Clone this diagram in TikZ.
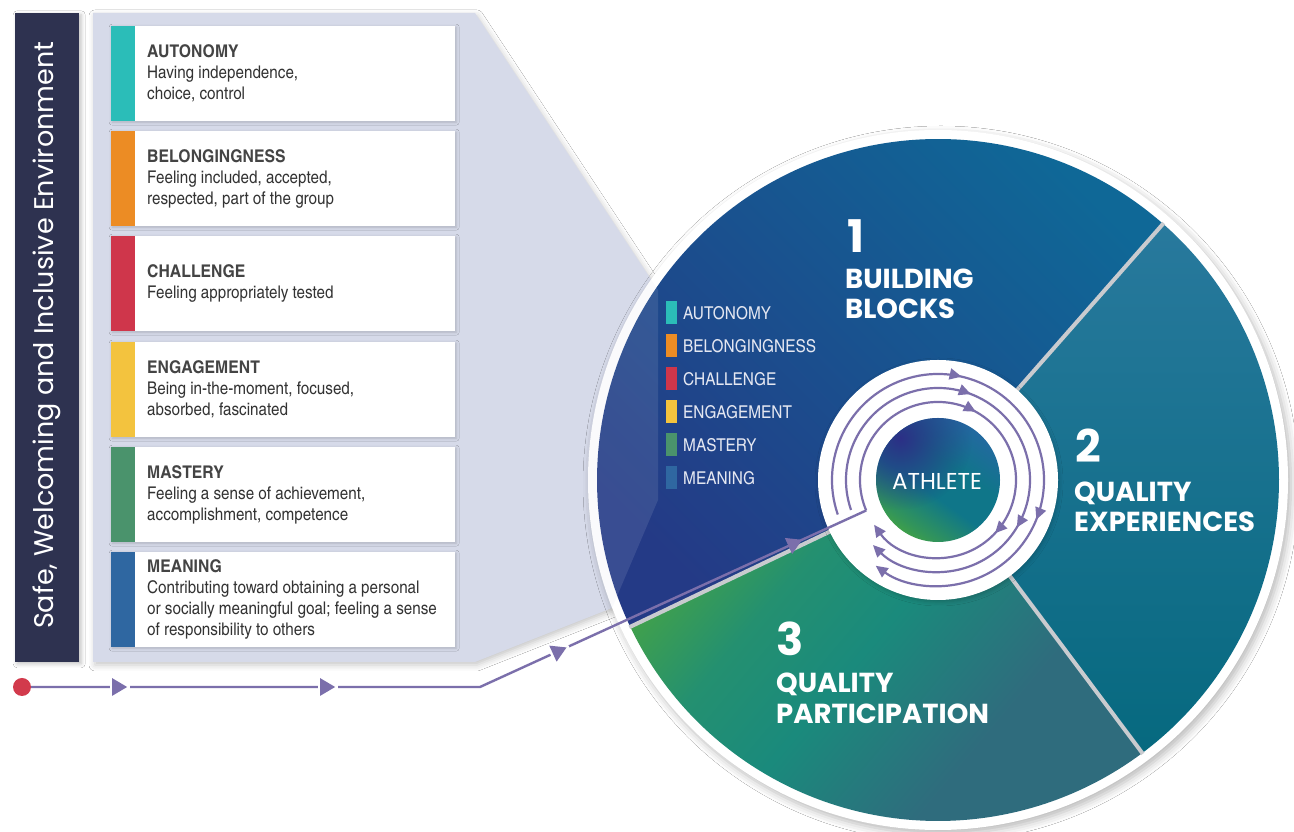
\documentclass[tikz,border=0pt]{standalone}
\usepackage{fontspec}
\usetikzlibrary{arrows.meta,decorations.markings,shadows.blur,calc,fadings}
\newfontfamily\cardfont{texgyreheroscn}[Extension=.otf,UprightFont=*-regular,BoldFont=*-bold,FakeStretch=1.06]
\newfontfamily\cardtitlefont{texgyreheroscn}[Extension=.otf,UprightFont=*-bold,FakeStretch=1.1]
\newfontfamily\headfont{Poppins}
\definecolor{barc}{HTML}{2E3250}
\definecolor{panelc}{HTML}{D6DAE9}
\definecolor{purp}{HTML}{7B6FAB}
\definecolor{redc}{HTML}{D23A4C}
\definecolor{cAut}{HTML}{2BBDB8}
\definecolor{cBel}{HTML}{EC8C24}
\definecolor{cCha}{HTML}{CF364B}
\definecolor{cEng}{HTML}{F3C33E}
\definecolor{cMas}{HTML}{4A936C}
\definecolor{cMea}{HTML}{2F67A1}
\definecolor{txtc}{HTML}{333333}
\definecolor{titc}{HTML}{444444}
\definecolor{legc}{HTML}{E4E7F1}
\definecolor{sOneA}{HTML}{243A86}
\definecolor{sOneB}{HTML}{0F6897}
\definecolor{sTwoA}{HTML}{28799D}
\definecolor{sTwoB}{HTML}{06697F}
\definecolor{sThrA}{HTML}{42A14A}
\definecolor{sThrM}{HTML}{249070}
\definecolor{sThrB}{HTML}{1A8A7C}
\definecolor{sThrC}{HTML}{2F6C7D}
\definecolor{athA}{HTML}{2C2F86}
\definecolor{athD}{HTML}{2369A0}
\definecolor{athB}{HTML}{0F7689}
\definecolor{athC}{HTML}{3E9F4A}
\definecolor{divc}{HTML}{C9CBCF}
\pgfdeclareverticalshading{sthree}{100bp}{color(0bp)=(sThrC); color(25bp)=(sThrC); color(35bp)=(sThrC); color(52bp)=(sThrB); color(64bp)=(sThrM); color(75bp)=(sThrA); color(100bp)=(sThrA)}
\pgfdeclareverticalshading{athsh}{100bp}{color(0bp)=(athC); color(25bp)=(athC); color(29bp)=(athC!75!athB); color(44bp)=(athB); color(58bp)=(athB); color(75bp)=(athD); color(100bp)=(athD)}
\tikzfading[name=fadeTL, inner color=transparent!0, outer color=transparent!100]
\newcommand\gapmark{\fill[white] (-17.5pt,-2pt) rectangle (2.5pt,2pt); \arrow{Triangle[length=15pt,width=17pt]}}
\newcommand\plainmark{\arrow{Triangle[length=15pt,width=17pt]}}
\newcommand\ringmark{\arrow{Triangle[length=12pt,width=11pt]}}
\begin{document}
\begin{tikzpicture}[x=1pt,y=1pt,
  card/.style={fill=white,minimum width=344,minimum height=95,inner sep=0,anchor=north west,
    blur shadow={shadow blur radius=3pt,shadow xshift=1pt,shadow yshift=-1pt,shadow opacity=18}},
  cardtext/.style={anchor=west,align=left,inner sep=0,text=txtc,font=\cardfont\fontsize{17.5}{21}\selectfont},
  legtext/.style={anchor=west,inner sep=0,text=legc,font=\cardfont\fontsize{17.7}{20}\selectfont},
  numtext/.style={anchor=base west,inner sep=0,text=white,font=\headfont\bfseries\fontsize{45}{45}\selectfont},
  headtext/.style={anchor=base west,inner sep=0,text=white,align=left,font=\headfont\bfseries\fontsize{27.5}{30}\selectfont},
  divider/.style={draw=divc,line width=4pt},
  flowline/.style={draw=purp,line width=2.4pt},
  ringline/.style={draw=purp,line width=2.2pt},
]
\newcommand\ttl[1]{{\cardtitlefont\fontsize{17.5}{21}\selectfont\color{titc}#1}}
\useasboundingbox (0,0) rectangle (1294,832);
\fill[white] (0,0) rectangle (1294,832);

% funnel panel
\fill[panelc,blur shadow={shadow blur radius=6pt,shadow xshift=2pt,shadow yshift=-3pt,shadow opacity=22}]
  (93,819) -- (475,819) -- (658,542) -- (658,332) -- (612,224) -- (475,170) -- (93,170) -- cycle;

% big circle
\coordinate (C) at (938,352);
\fill[white,blur shadow={shadow blur radius=8pt,shadow xshift=3pt,shadow yshift=-4pt,shadow opacity=28}] (C) circle (350);
\shade[top color=sOneB,bottom color=sOneA,shading angle=-45]
  (C) -- ++(48.7:341) arc[start angle=48.7,end angle=205.5,radius=341] -- cycle;
\shade[top color=sTwoA,bottom color=sTwoB]
  (C) -- ++(-53.2:341) arc[start angle=-53.2,end angle=48.7,radius=341] -- cycle;
\shade[shading=sthree,shading angle=50]
  (C) -- ++(205.5:341) arc[start angle=205.5,end angle=306.8,radius=341] -- cycle;
\draw[divider] ($(C)+(48.7:118)$) -- ($(C)+(48.7:342)$);
\draw[divider] ($(C)+(-53.2:118)$) -- ($(C)+(-53.2:342)$);
\draw[divider] ($(C)+(205.5:118)$) -- ($(C)+(205.5:342)$);
% panel overlap tint
\begin{scope}
  \clip (C) circle (350);
  \fill[panelc,opacity=0.12] (93,819) -- (475,819) -- (658,542) -- (658,332) -- (612,224) -- (475,170) -- (93,170) -- cycle;
\end{scope}

% centre
\fill[white,blur shadow={shadow blur radius=4pt,shadow xshift=1pt,shadow yshift=-2pt,shadow opacity=20}] (C) circle (120);
\shade[shading=athsh,shading angle=-35] (C) circle (62);
\begin{scope}
  \clip (C) circle (62);
  \fill[athA,path fading=fadeTL] ($(C)+(-38,42)$) circle (72);
\end{scope}
\node[inner sep=0,text=white,font=\headfont\fontsize{23}{25}\selectfont] (athlete) at (937,351) {ATHLETE};

% rings
\coordinate (in1) at ($(C)+(203:78)$);
\coordinate (in2) at ($(C)+(199:92)$);
\coordinate (in3) at ($(C)+(199:106)$);
\draw[ringline,-{Triangle[length=12pt,width=11pt]},
  decoration={markings,
    mark=at position 0.408 with {\ringmark},
    mark=at position 0.707 with {\ringmark}},
  postaction={decorate}]
  (in1) arc[start angle=203,end angle=-145,radius=78];
\draw[ringline,-{Triangle[length=12pt,width=11pt]},
  decoration={markings,
    mark=at position 0.389 with {\ringmark},
    mark=at position 0.689 with {\ringmark}},
  postaction={decorate}]
  (in2) arc[start angle=199,end angle=-135,radius=92];
\draw[ringline,-{Triangle[length=12pt,width=11pt]},
  decoration={markings,
    mark=at position 0.375 with {\ringmark},
    mark=at position 0.680 with {\ringmark}},
  postaction={decorate}]
  (in3) arc[start angle=199,end angle=-126,radius=106];

% entry path
\node[circle,fill=redc,minimum size=18,inner sep=0] (dot) at (22,145) {};
\coordinate (bend) at (480,145);
\draw[flowline,
  decoration={markings,
    mark=at position 96pt with {\gapmark},
    mark=at position 304pt with {\gapmark},
    mark=at position 544pt with {\gapmark},
    mark=at position 803pt with {\plainmark}},
  postaction={decorate}]
  (dot.east) -- (bend) -- (in1);

% sector labels
\node[numtext] (n1) at (847,579) {1};
\node[headtext] (h1a) at (845,543) {BUILDING};
\node[headtext] (h1b) at (845,513) {BLOCKS};
\node[numtext] (n2) at (1075,369) {2};
\node[headtext] (h2a) at (1074,330) {QUALITY};
\node[headtext] (h2b) at (1074,300) {EXPERIENCES};
\node[numtext] (n3) at (776,176) {3};
\node[headtext] (h3a) at (776,139) {QUALITY};
\node[headtext] (h3b) at (776,108) {PARTICIPATION};

% legend in circle
\foreach \yy/\cc/\tt [count=\i] in {519/cAut/AUTONOMY,486/cBel/BELONGINGNESS,453/cCha/CHALLENGE,420/cEng/ENGAGEMENT,387/cMas/MASTERY,354/cMea/MEANING}{
  \fill[\cc] (666,\yy-11.5) rectangle (677,\yy+11.5);
  \node[legtext] (leg\i) at (683,\yy) {\tt};
}

% cards
\foreach \top/\cc [count=\i] in {806/cAut,701/cBel,596/cCha,490/cEng,385/cMas,280/cMea}{
  \node[card] (card\i) at (111,\top) {};
  \fill[\cc] (card\i.north west) rectangle ($(card\i.south west)+(24,0)$);
}
\node[cardtext] (t1) at (147,|-card1) {\ttl{AUTONOMY}\\Having independence,\\choice, control};
\node[cardtext] (t2) at (147,|-card2) {\ttl{BELONGINGNESS}\\Feeling included, accepted,\\respected, part of the group};
\node[cardtext] (t3) at (147,|-card3) {\ttl{CHALLENGE}\\Feeling appropriately tested};
\node[cardtext] (t4) at (147,|-card4) {\ttl{ENGAGEMENT}\\Being in-the-moment, focused,\\absorbed, fascinated};
\node[cardtext] (t5) at (147,|-card5) {\ttl{MASTERY}\\Feeling a sense of achievement,\\accomplishment, competence};
\node[cardtext] (t6) at (147,|-card6) {\ttl{MEANING}\\Contributing toward obtaining a personal\\or socially meaningful goal; feeling a sense\\of responsibility to others};

% environment bar
\node[fill=barc,minimum width=64,minimum height=649,inner sep=0,anchor=south west,
  blur shadow={shadow blur radius=4pt,shadow xshift=2pt,shadow yshift=-2pt,shadow opacity=25}] (bar) at (15,170) {};
\node[rotate=90,inner sep=0,text=white,font=\headfont\fontsize{27}{29}\selectfont] (envtext) at ([yshift=2pt]bar.center) {Safe, Welcoming and Inclusive Environment};
\end{tikzpicture}
\end{document}
